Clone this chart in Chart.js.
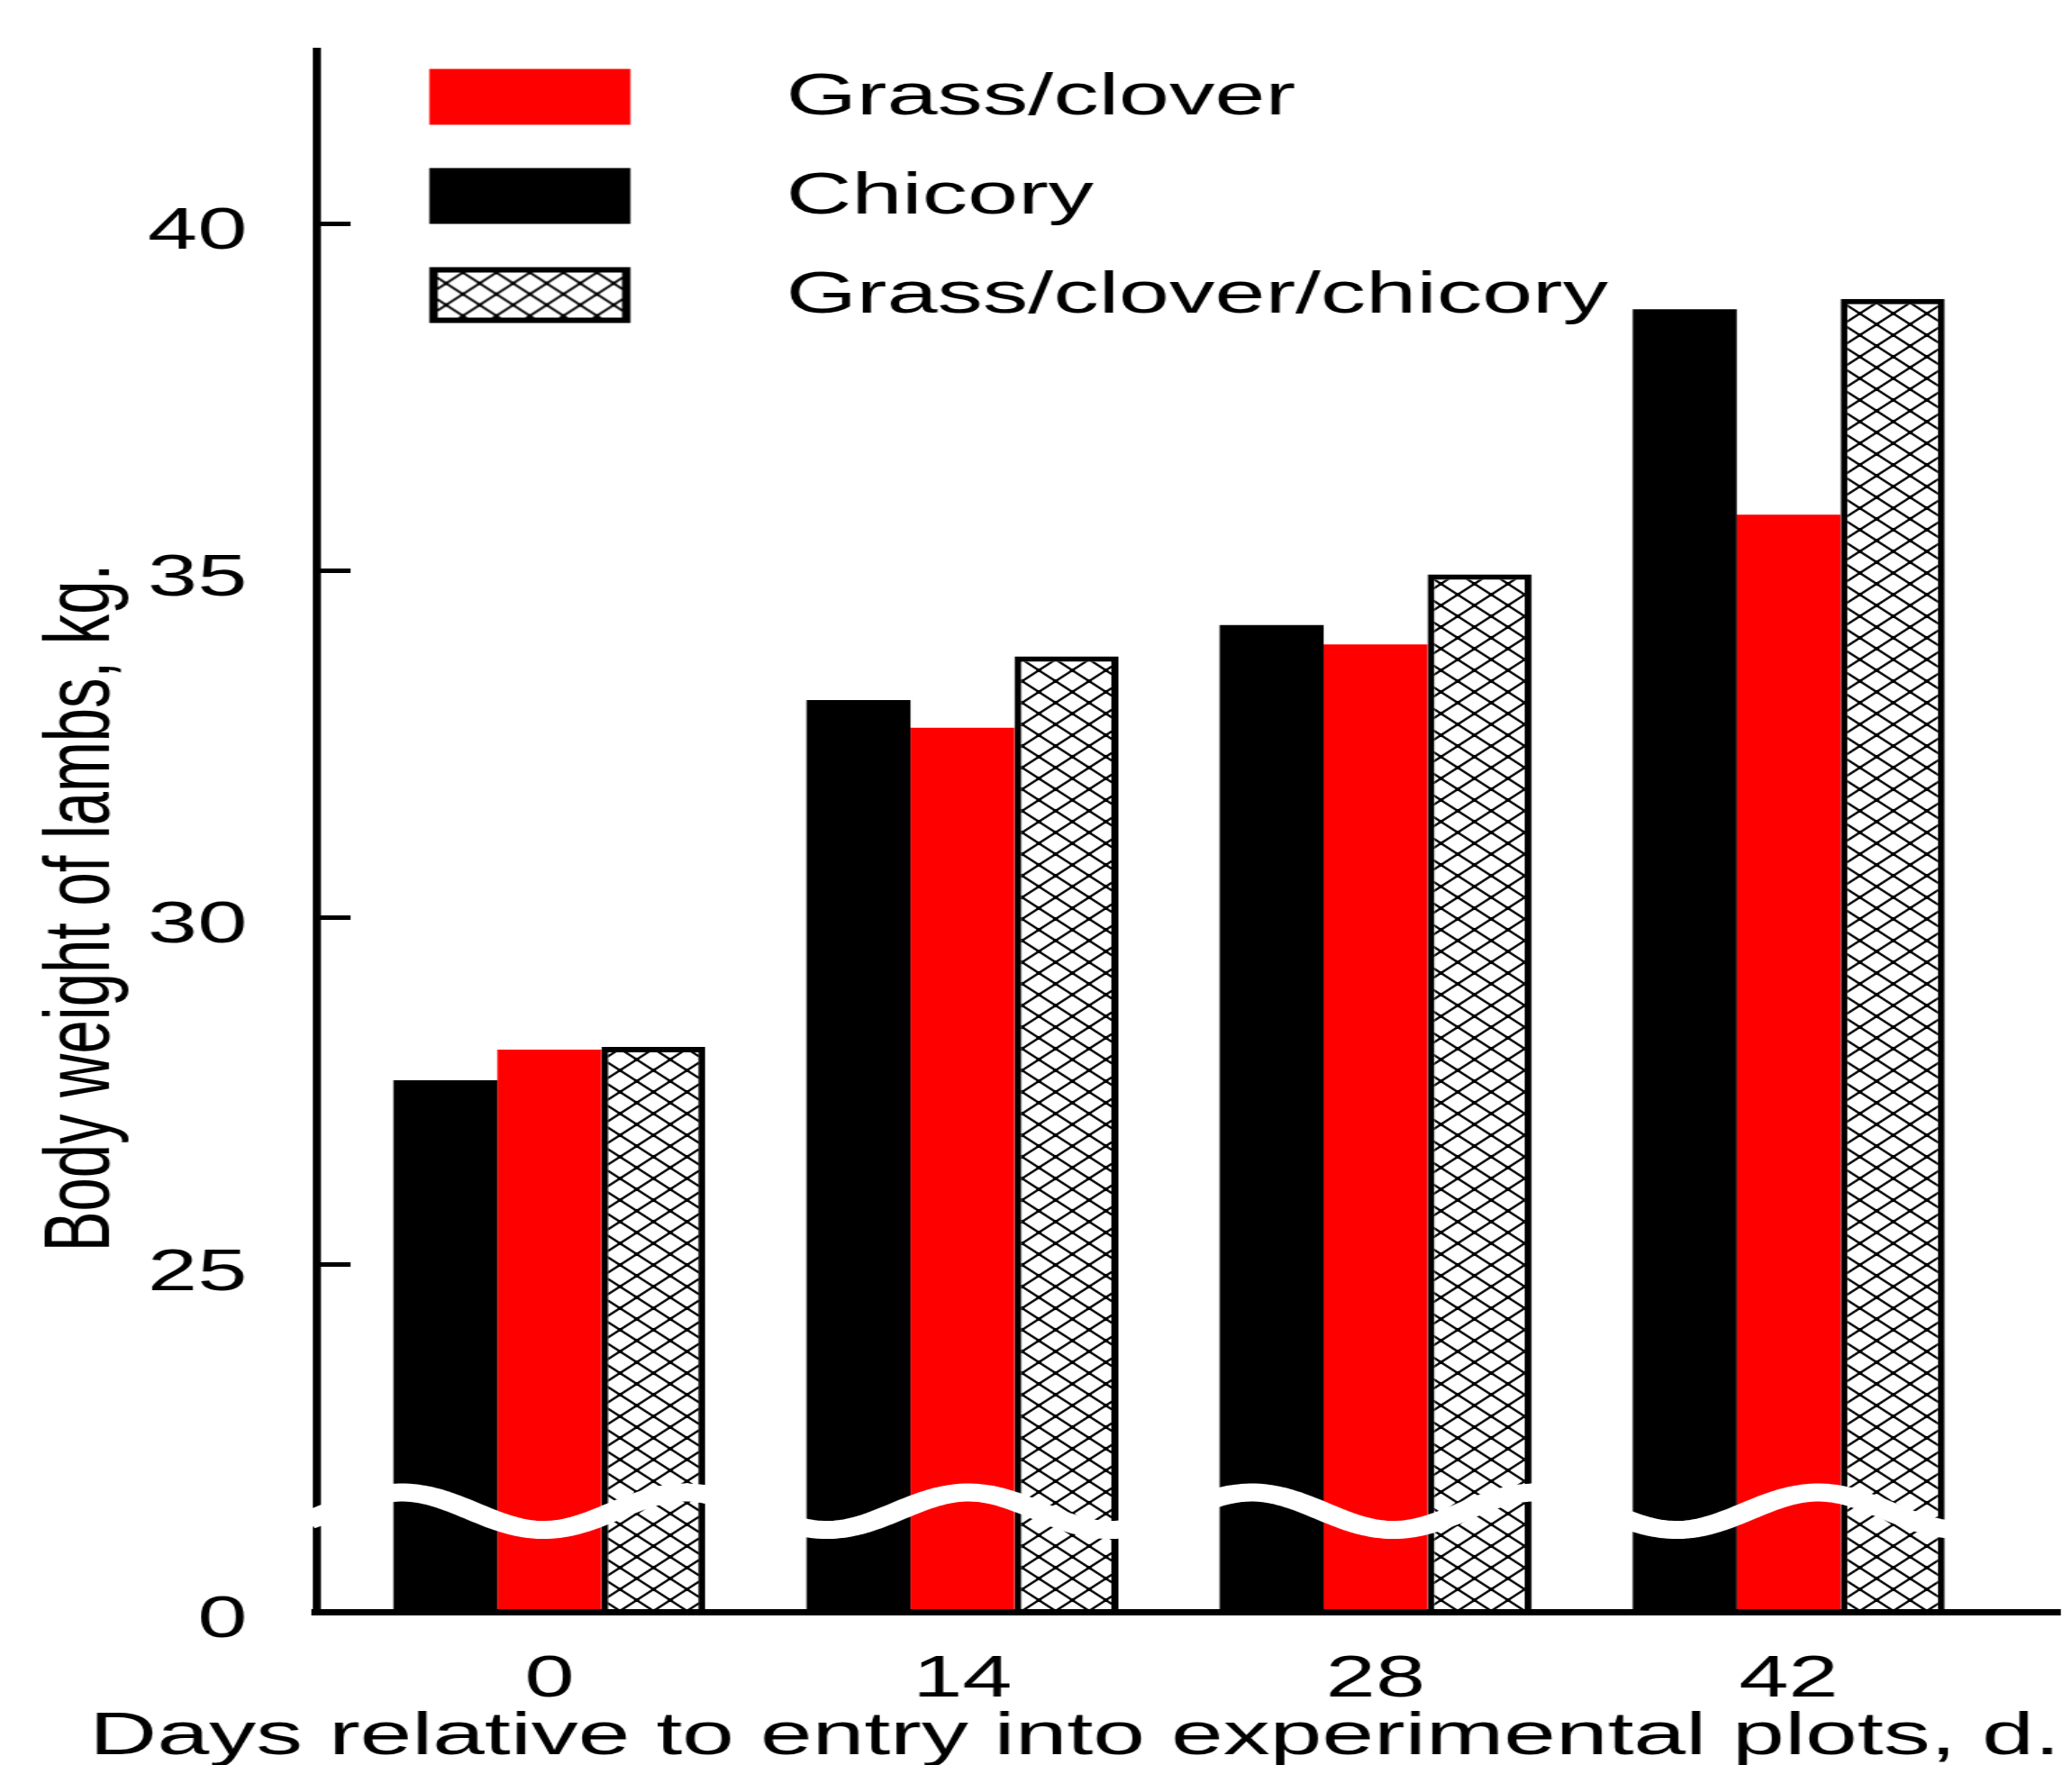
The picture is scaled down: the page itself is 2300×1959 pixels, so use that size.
<!DOCTYPE html>
<html>
<head>
<meta charset="utf-8">
<title>Body weight of lambs</title>
<script src="https://cdn.jsdelivr.net/npm/chart.js@4.4.1/dist/chart.umd.min.js"></script>
<style>
  html, body { margin: 0; padding: 0; background: #fff; overflow: hidden; }
  #chart { display: block; }
</style>
</head>
<body>
<!-- the original figure is stretched sideways, so the canvas is drawn narrow and widened by css -->
<canvas id="chart" width="1484" height="1959" style="width:2300px;height:1959px"></canvas>
<script>
// days relative to entry into the plots
const days = [0, 14, 28, 42];

// body weight of lambs, kg
const chicory = [27.66, 33.14, 34.22, 38.77];
const grassClover = [28.10, 32.74, 33.94, 35.81];
const grassCloverChicory = [28.14, 33.77, 34.95, 38.92];

// broken y axis: 20 kg sits on the x axis and is shown as 0
const yTickValues = [20, 25, 30, 35, 40];
const yTickLabels = ['0', '25', '30', '35', '40'];

const legendOrder = ['Grass/clover', 'Chicory', 'Grass/clover/chicory'];

const FONT = "'Liberation Sans', Arial, Helvetica, sans-serif";
Chart.defaults.font.family = FONT;
Chart.defaults.color = '#000';

// crosshatch tile
const tile = document.createElement('canvas');
tile.width = 24;
tile.height = 24;
(function () {
  const g = tile.getContext('2d');
  g.fillStyle = '#fff';
  g.fillRect(0, 0, 24, 24);
  g.strokeStyle = '#000';
  g.lineWidth = 2;
  g.beginPath();
  for (const o of [-24, 0, 24]) {
    g.moveTo(o - 2, -2); g.lineTo(o + 26, 26);
    g.moveTo(o + 26, -2); g.lineTo(o - 2, 26);
  }
  g.stroke();
  g.fillStyle = '#000';
  g.fillRect(10, 10, 4, 4);
  for (const [cx, cy] of [[0, 0], [24, 0], [0, 24], [24, 24]]) g.fillRect(cx - 2, cy - 2, 4, 4);
})();

const canvas = document.getElementById('chart');
const ctx = canvas.getContext('2d');
const hatch = ctx.createPattern(tile, 'repeat');

// legend swatches as images, so the box can sit apart from the text
function swatch(kind) {
  const c = document.createElement('canvas');
  c.width = 259;
  c.height = 78;
  const g = c.getContext('2d');
  const x0 = 36, y0 = 6, w = 144, h = 62;
  if (kind === 'hatch') {
    g.fillStyle = '#000';
    g.fillRect(x0, y0, w, h);
    g.fillStyle = g.createPattern(tile, 'repeat');
    g.fillRect(x0 + 6, y0 + 6, w - 12, h - 12);
  } else {
    g.fillStyle = kind;
    g.fillRect(x0, y0, w, h);
  }
  return c;
}
const swatches = [swatch('#000000'), swatch('#ff0000'), swatch('hatch')];

const toPoints = (values) => values.map((v, i) => ({ x: days[i], y: v }));

// white wavy band that marks the break in the axis
const axisBreak = {
  id: 'axisBreak',
  afterDraw(chart) {
    const { ctx, chartArea, scales: { x, y } } = chart;
    ctx.save();
    ctx.strokeStyle = '#fff';
    ctx.lineWidth = 20;
    ctx.lineJoin = 'round';
    ctx.beginPath();
    const start = chartArea.left - 6;
    for (let px = start; px <= chartArea.right + 2; px += 3) {
      const d = x.getValueForPixel(px);
      const v = 21.45 + 0.27 * Math.cos(2 * Math.PI * (d + 5) / 9.6);
      const py = y.getPixelForValue(v);
      if (px === start) ctx.moveTo(px, py); else ctx.lineTo(px, py);
    }
    ctx.stroke();
    ctx.restore();
  }
};

// legend sits inside the plot, top left
const legendPlace = {
  id: 'legendPlace',
  beforeDraw(chart) {
    chart.legend.left = chart.chartArea.left;
    chart.legend.top = 32;
  }
};

new Chart(ctx, {
  type: 'bar',
  data: {
    datasets: [
      {
        label: 'Chicory',
        data: toPoints(chicory),
        backgroundColor: '#000000',
        borderWidth: 0
      },
      {
        label: 'Grass/clover',
        data: toPoints(grassClover),
        backgroundColor: '#ff0000',
        borderWidth: 0
      },
      {
        label: 'Grass/clover/chicory',
        data: toPoints(grassCloverChicory),
        backgroundColor: hatch,
        borderColor: '#000000',
        borderWidth: { top: 6, left: 5, right: 5, bottom: 0 },
        borderSkipped: 'start'
      }
    ]
  },
  options: {
    responsive: false,
    devicePixelRatio: 1,
    animation: false,
    categoryPercentage: 0.755,
    barPercentage: 1.0,
    layout: { padding: { top: 56, right: 8.5, bottom: 0, left: 0 } },
    plugins: {
      tooltip: { enabled: false },
      // y axis title, left of the axis
      title: {
        display: true,
        position: 'left',
        align: 'center',
        fullSize: true,
        text: 'Body weight of lambs, kg.',
        color: '#000',
        font: { family: FONT, size: 67, weight: 'normal', lineHeight: 1.2 },
        padding: { top: 19, bottom: 0 }
      },
      // x axis title, wider than the plot so it goes in the full width bottom box
      subtitle: {
        display: true,
        position: 'bottom',
        align: 'end',
        fullSize: true,
        text: 'Days relative to entry into experimental plots, d.',
        color: '#000',
        font: { family: FONT, size: 67, weight: 'normal', lineHeight: 0.9 },
        padding: 0
      },
      legend: {
        display: true,
        position: 'chartArea',
        align: 'start',
        labels: {
          usePointStyle: true,
          pointStyleWidth: 259,
          padding: 45,
          color: '#000',
          font: { family: FONT, size: 65 },
          generateLabels(chart) {
            const items = Chart.defaults.plugins.legend.labels.generateLabels(chart);
            items.forEach((item) => { item.pointStyle = swatches[item.datasetIndex]; });
            return items.sort((a, b) => legendOrder.indexOf(a.text) - legendOrder.indexOf(b.text));
          }
        }
      }
    },
    scales: {
      x: {
        type: 'linear',
        min: -7.9,
        max: 51.2,
        offset: false,
        afterBuildTicks: (axis) => { axis.ticks = days.map((v) => ({ value: v })); },
        afterFit: (axis) => {
          // 170 below the plot, minus the subtitle line (67 * 0.9)
          axis.height = 170 - 60.3;
          axis.paddingLeft = 0;
          axis.paddingRight = 0;
        },
        grid: { display: false, offset: false },
        border: { display: true, color: '#000', width: 7, z: 1 },
        ticks: {
          color: '#000',
          font: { family: FONT, size: 64 },
          padding: 30,
          maxRotation: 0,
          autoSkip: false,
          callback: (v) => String(v)
        }
      },
      y: {
        min: 20,
        max: 42.5,
        afterBuildTicks: (axis) => { axis.ticks = yTickValues.map((v) => ({ value: v })); },
        afterFit: (axis) => {
          // title on the left is 67 * 1.2 + 19 wide
          axis.width = 226.5 - 99.4;
          axis.paddingTop = 0;
          axis.paddingBottom = 0;
        },
        grid: {
          display: true,
          drawOnChartArea: false,
          drawTicks: true,
          tickLength: -24.5,
          tickWidth: 5,
          tickColor: '#000'
        },
        border: { display: true, color: '#000', width: 5.8, z: 1 },
        ticks: {
          color: '#000',
          font: { family: FONT, size: 64 },
          padding: 74,
          labelOffset: 10,
          autoSkip: false,
          callback: (v) => yTickLabels[yTickValues.indexOf(v)]
        }
      }
    }
  },
  plugins: [legendPlace, axisBreak]
});
</script>
</body>
</html>
